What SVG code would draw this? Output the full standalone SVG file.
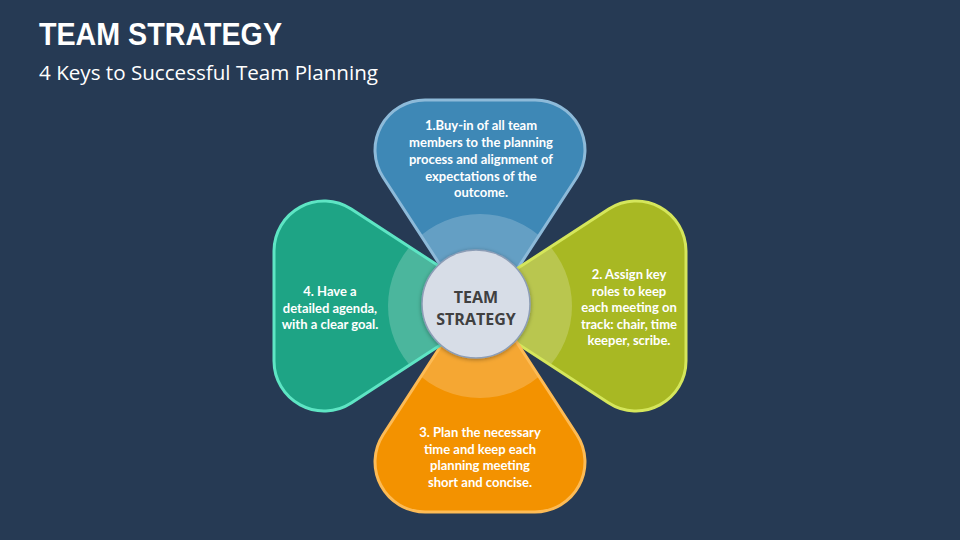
<svg xmlns="http://www.w3.org/2000/svg" xmlns:xlink="http://www.w3.org/1999/xlink" width="960" height="540" viewBox="0 0 960 540">
  <defs>
    <path id="petal" d="M -15.2,-3 L -96.9,-128.75 A 50 50 0 0 1 -55,-206 L 55,-206 A 50 50 0 0 1 96.9,-128.75 L 15.2,-3 Z"/>
    <clipPath id="cp"><use href="#petal"/></clipPath>
    <filter id="sh" x="-20%" y="-20%" width="140%" height="140%">
      <feDropShadow dx="0" dy="1" stdDeviation="2" flood-color="#000" flood-opacity="0.35"/>
    </filter>
  </defs>
  <style>
    .title{font-family:"Liberation Sans",Arial,sans-serif;font-weight:700;fill:#fff}
    .sub{font-family:"Open Sans","Liberation Sans",sans-serif;fill:#fff}
    .pt{font-family:Lato,"Liberation Sans",sans-serif;font-weight:700;font-size:13px;fill:#fff;text-anchor:middle}
    .ring{fill:#fff;fill-opacity:0.2}
    .edge{fill:none;stroke-width:3}
    .ct{font-family:"Open Sans","Liberation Sans",sans-serif;font-weight:700;font-size:16px;fill:#404040;text-anchor:middle}
  </style>
  <rect width="960" height="540" fill="#263A54"/>
  <text class="title" x="39" y="45" font-size="31" textLength="243" lengthAdjust="spacingAndGlyphs">TEAM STRATEGY</text>
  <text class="sub" x="39" y="80" font-size="19.5" textLength="339" lengthAdjust="spacingAndGlyphs">4 Keys to Successful Team Planning</text>

  <g id="connectors"/>

  <g id="node-1">
    <g transform="translate(480,306)">
      <use href="#petal" fill="#3E88B6"/>
      <circle r="92" class="ring" clip-path="url(#cp)"/>
      <use href="#petal" class="edge" stroke="#8DBAD9"/>
    </g>
    <text class="pt" x="481" y="130">1.Buy-in of all team</text>
    <text class="pt" x="481" y="147">members to the planning</text>
    <text class="pt" x="481" y="164">process and alignment of</text>
    <text class="pt" x="481" y="181">expectations of the</text>
    <text class="pt" x="481" y="197">outcome.</text>
  </g>

  <g id="node-2">
    <g transform="translate(480,306) rotate(90)">
      <use href="#petal" fill="#A8B823"/>
      <circle r="92" class="ring" clip-path="url(#cp)"/>
      <use href="#petal" class="edge" stroke="#D5E65B"/>
    </g>
    <text class="pt" x="629" y="279">2. Assign key</text>
    <text class="pt" x="629" y="295.5">roles to keep</text>
    <text class="pt" x="629" y="312">each meeting on</text>
    <text class="pt" x="629" y="328.5">track: chair, time</text>
    <text class="pt" x="629" y="345">keeper, scribe.</text>
  </g>

  <g id="node-3">
    <g transform="translate(480,306) rotate(180)">
      <use href="#petal" fill="#F39200"/>
      <circle r="92" class="ring" clip-path="url(#cp)"/>
      <use href="#petal" class="edge" stroke="#FDBB55"/>
    </g>
    <text class="pt" x="480" y="437">3. Plan the necessary</text>
    <text class="pt" x="480" y="453.5">time and keep each</text>
    <text class="pt" x="480" y="470">planning meeting</text>
    <text class="pt" x="480" y="486.5">short and concise.</text>
  </g>

  <g id="node-4">
    <g transform="translate(480,306) rotate(270)">
      <use href="#petal" fill="#1EA485"/>
      <circle r="92" class="ring" clip-path="url(#cp)"/>
      <use href="#petal" class="edge" stroke="#5EE5C4"/>
    </g>
    <text class="pt" x="330" y="296">4. Have a</text>
    <text class="pt" x="330" y="312.5">detailed agenda,</text>
    <text class="pt" x="330" y="329">with a clear goal.</text>
  </g>

  <g id="center">
    <circle cx="476" cy="304" r="54" fill="#D7DDE7" stroke="#8C9DB6" stroke-width="1.5" filter="url(#sh)"/>
    <text class="ct" x="476" y="303">TEAM</text>
    <text class="ct" x="476" y="325">STRATEGY</text>
  </g>
</svg>
